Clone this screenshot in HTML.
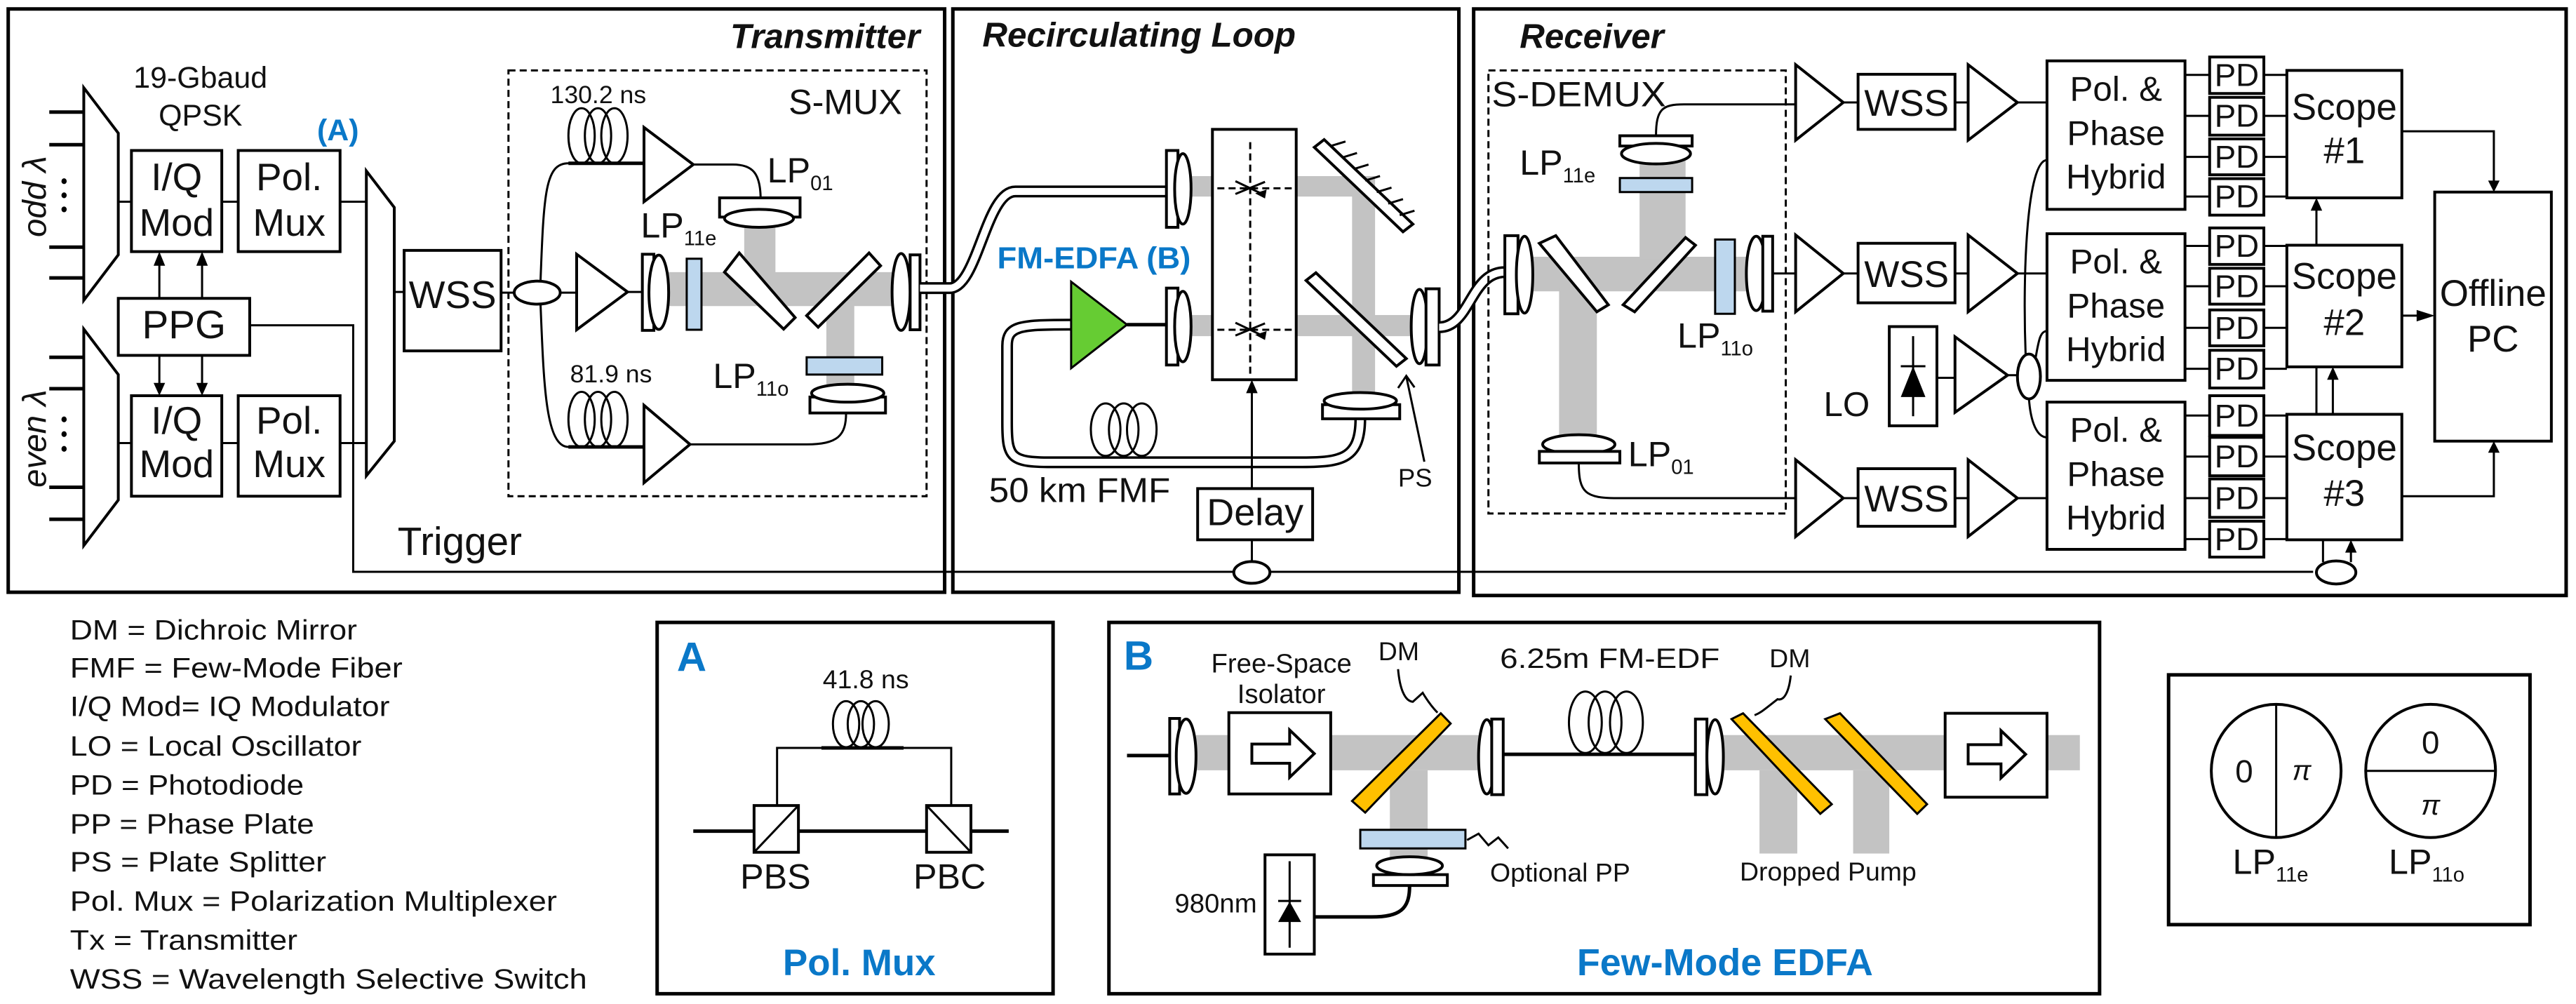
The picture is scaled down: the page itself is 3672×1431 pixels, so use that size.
<!DOCTYPE html>
<html><head><meta charset="utf-8"><style>
html,body{margin:0;padding:0;background:#fff;}
svg{display:block;}
svg *{vector-effect:non-scaling-stroke;}
.b{fill:#fff;stroke:#000;stroke-width:4}
.f{fill:none;stroke:#000;stroke-width:3}
.k{fill:none;stroke:#000;stroke-width:5}
.g{fill:#c3c3c3;stroke:none}
.bl{fill:#bdd7ee;stroke:#000;stroke-width:3}
.or{fill:#ffc000;stroke:#000;stroke-width:3}
.ah{fill:#000;stroke:none}
text{font-family:"Liberation Sans",Arial,sans-serif;fill:#111}
.m{text-anchor:middle}
.e{text-anchor:end}
.ti{font-weight:bold;font-style:italic}
.blu{fill:#0a78c8;font-weight:bold}
</style></head><body>
<svg width="3672" height="1431" viewBox="0 0 1568 1568" preserveAspectRatio="none" xmlns="http://www.w3.org/2000/svg">

<!-- beams -->
<rect class="g" x="395" y="425" width="160" height="53"/>
<rect class="g" x="453" y="335" width="19" height="92"/>
<rect class="g" x="503" y="470" width="17" height="150"/>
<rect class="g" x="720" y="275" width="116" height="32"/>
<rect class="g" x="823" y="275" width="14" height="345"/>
<rect class="g" x="720" y="492" width="150" height="33"/>
<rect class="g" x="920" y="401" width="150" height="54"/>
<rect class="g" x="998" y="215" width="28" height="190"/>
<rect class="g" x="949" y="450" width="23" height="240"/>
<rect class="g" x="728" y="1148" width="173" height="55"/>
<rect class="g" x="1035" y="1148" width="231" height="55"/>
<rect class="g" x="846" y="1203" width="23" height="140"/>
<rect class="g" x="1071" y="1203" width="23" height="130"/>
<rect class="g" x="1128" y="1203" width="22" height="130"/>

<!-- panels -->
<rect x="5" y="14" width="570" height="911" fill="none" stroke="#000" stroke-width="5"/>
<rect x="580" y="14" width="308" height="911" fill="none" stroke="#000" stroke-width="5"/>
<rect x="897" y="14" width="665" height="916" fill="none" stroke="#000" stroke-width="5"/>
<text class="e ti" transform="matrix(.39 0 0 1 560 75)" font-size="54">Transmitter</text>
<text class="ti" transform="matrix(.39 0 0 1 598 73)" font-size="54">Recirculating Loop</text>
<text class="ti" transform="matrix(.39 0 0 1 925 75)" font-size="54">Receiver</text>

<!-- muxes -->
<polygon class="b" points="51,137 72,208 72,398 51,469"/>
<polygon class="b" points="51,514 72,585 72,781 51,852"/>
<path class="k" d="M30 175H51M30 226H51M30 386H51M30 434H51M30 558H51M30 607H51M30 761H51M30 811H51"/>
<g fill="#000"><ellipse cx="39" cy="283" rx="1.6" ry="4.5"/><ellipse cx="39" cy="305" rx="1.6" ry="4.5"/><ellipse cx="39" cy="327" rx="1.6" ry="4.5"/>
<ellipse cx="39" cy="655" rx="1.6" ry="4.5"/><ellipse cx="39" cy="678" rx="1.6" ry="4.5"/><ellipse cx="39" cy="701" rx="1.6" ry="4.5"/></g>
<text class="m" transform="matrix(0 -1 .39 0 28 307)" font-size="52" font-style="italic">odd λ</text>
<text class="m" transform="matrix(0 -1 .39 0 28 685)" font-size="52" font-style="italic">even λ</text>

<rect class="b" x="80" y="235" width="55" height="158"/>
<rect class="b" x="145" y="235" width="62" height="158"/>
<rect class="b" x="80" y="618" width="55" height="157"/>
<rect class="b" x="145" y="618" width="62" height="157"/>
<path class="f" d="M72 315H80M135 315H145M207 315H223M72 692H80M135 692H145M207 692H223"/>
<g font-size="60">
<text class="m" transform="matrix(.39 0 0 1 107.5 297)">I/Q</text>
<text class="m" transform="matrix(.39 0 0 1 107.5 368)">Mod</text>
<text class="m" transform="matrix(.39 0 0 1 176 297)">Pol.</text>
<text class="m" transform="matrix(.39 0 0 1 176 368)">Mux</text>
<text class="m" transform="matrix(.39 0 0 1 107.5 677)">I/Q</text>
<text class="m" transform="matrix(.39 0 0 1 107.5 745)">Mod</text>
<text class="m" transform="matrix(.39 0 0 1 176 677)">Pol.</text>
<text class="m" transform="matrix(.39 0 0 1 176 745)">Mux</text>
</g>
<rect class="b" x="72" y="466" width="80" height="89"/>
<text class="m" transform="matrix(.39 0 0 1 112 528)" font-size="62">PPG</text>
<path class="f" d="M97 466V410M123 466V410M97 555V600M123 555V600"/>
<polygon class="ah" points="93.5,415 100.5,415 97,393"/>
<polygon class="ah" points="119.5,415 126.5,415 123,393"/>
<polygon class="ah" points="93.5,598 100.5,598 97,618"/>
<polygon class="ah" points="119.5,598 126.5,598 123,618"/>
<path class="f" d="M152 508H215V893H1408"/>
<polygon class="b" points="223,267 240,324 240,689 223,743"/>
<path class="f" d="M240 456H246M305 457H313"/>
<rect class="b" x="246" y="391" width="59" height="157"/>
<text class="m" transform="matrix(.39 0 0 1 275.5 481)" font-size="60">WSS</text>
<text class="m" transform="matrix(.39 0 0 1 122 137)" font-size="47">19-Gbaud</text>
<text class="m" transform="matrix(.39 0 0 1 122 196)" font-size="47">QPSK</text>
<text class="blu" transform="matrix(.39 0 0 1 193 219)" font-size="47">(A)</text>
<text transform="matrix(.39 0 0 1 242 867)" font-size="62">Trigger</text>

<!-- S-MUX -->
<rect x="309.5" y="110" width="254.5" height="665" fill="none" stroke="#000" stroke-width="3" stroke-dasharray="10 6"/>
<text transform="matrix(.39 0 0 1 480 178)" font-size="55">S-MUX</text>
<text transform="matrix(.39 0 0 1 335 161)" font-size="39">130.2 ns</text>
<text transform="matrix(.39 0 0 1 347 597)" font-size="39">81.9 ns</text>
<path class="f" d="M329 440C331 300 332 255 346 255H392"/>
<path class="f" d="M329 474C331 600 332 698 346 698H392"/>
<path class="k" d="M346 255H392M346 698H392"/>
<g class="f"><ellipse cx="354" cy="212" rx="8" ry="43"/><ellipse cx="364" cy="212" rx="8" ry="43"/><ellipse cx="374" cy="212" rx="8" ry="43"/>
<ellipse cx="354" cy="655" rx="8" ry="43"/><ellipse cx="364" cy="655" rx="8" ry="43"/><ellipse cx="374" cy="655" rx="8" ry="43"/></g>
<ellipse class="b" cx="327" cy="457" rx="14" ry="18"/>
<polygon class="b" points="392,199 422,257 392,315"/>
<path class="f" d="M422 257H446C458 257 463 270 463 312"/>
<rect class="b" x="438" y="309" width="49" height="30"/>
<ellipse class="b" cx="462" cy="341" rx="21" ry="14"/>
<text transform="matrix(.39 0 0 1 467 285)" font-size="55">LP<tspan font-size="32" dy="12">01</tspan></text>
<text transform="matrix(.39 0 0 1 390 371)" font-size="55">LP<tspan font-size="32" dy="12">11e</tspan></text>
<text transform="matrix(.39 0 0 1 434 606)" font-size="55">LP<tspan font-size="32" dy="12">11o</tspan></text>
<path class="f" d="M341 457H351M382 456H391"/>
<polygon class="b" points="351,397 382,456 351,515"/>
<rect class="b" x="391" y="397" width="7" height="119"/>
<ellipse class="b" cx="401" cy="456.5" rx="6" ry="58"/>
<rect class="bl" x="418" y="404" width="9" height="111"/>
<polygon class="b" points="441,425 450,395 484,496 477,514"/>
<polygon class="b" points="491,493 498,511 536,415 529,395"/>
<ellipse class="b" cx="548.5" cy="456" rx="5.5" ry="60"/>
<rect class="b" x="554" y="398" width="6" height="117"/>
<polygon class="b" points="392,633 420,694 392,754"/>
<path class="f" d="M420 694H491C510 694 515 680 515 645"/>
<rect class="b" x="493" y="620" width="46" height="25"/>
<ellipse class="b" cx="516" cy="614" rx="22" ry="14"/>
<rect class="bl" x="491" y="558" width="46" height="27"/>

<!-- double fiber Tx->loop -->
<path d="M560 450H578C595 450 600 299 618 299H711" fill="none" stroke="#000" stroke-width="17"/>
<path d="M560 450H578C595 450 600 299 618 299H711" fill="none" stroke="#fff" stroke-width="10"/>

<!-- loop -->
<path d="M828 654C828 720 815 722 790 722H640C615 722 613 715 613 660V540C613 510 620 507 650 507H652" fill="none" stroke="#000" stroke-width="17"/>
<path d="M828 654C828 720 815 722 790 722H640C615 722 613 715 613 660V540C613 510 620 507 650 507H652" fill="none" stroke="#fff" stroke-width="10"/>
<g class="f" stroke-width="4"><ellipse cx="673" cy="671" rx="9" ry="41"/><ellipse cx="684" cy="671" rx="9" ry="41"/><ellipse cx="695" cy="671" rx="9" ry="41"/></g>
<rect class="b" x="710" y="235" width="7" height="120"/>
<ellipse class="b" cx="720" cy="295" rx="5" ry="55"/>
<rect class="b" x="710" y="450" width="7" height="120"/>
<ellipse class="b" cx="720" cy="510" rx="5" ry="55"/>
<polygon fill="#66cc33" stroke="#000" stroke-width="3" points="652,440 686,507 652,575"/>
<path class="k" d="M686 507H710"/>
<rect class="b" x="738" y="202" width="51" height="391"/>
<path class="f" d="M741 294H787M741 515H787M761 222V588" stroke-dasharray="10 6"/>
<path class="f" d="M752 283L770 305M752 303L770 284M752 504L770 526M752 524L770 505"/>
<polygon class="ah" points="764,302 770,310 771,296"/>
<polygon class="ah" points="764,523 770,531 771,517"/>
<polygon class="b" points="800,230 806,218 860,350 854,362"/>
<path class="f" d="M810 228l9 -7M817 246l9 -7M824 264l9 -7M831 282l9 -7M838 300l9 -7M845 318l9 -7M852 336l9 -7"/>
<polygon class="b" points="795,438 801,426 856,560 850,572"/>
<rect class="b" x="805" y="632" width="47" height="22"/>
<ellipse class="b" cx="828" cy="626" rx="22" ry="13"/>
<text class="blu" transform="matrix(.39 0 0 1 607 419)" font-size="48" textLength="302" lengthAdjust="spacingAndGlyphs">FM-EDFA (B)</text>
<text transform="matrix(.39 0 0 1 602 784)" font-size="54" textLength="283" lengthAdjust="spacingAndGlyphs">50 km FMF</text>
<rect class="b" x="729" y="763" width="70" height="80"/>
<text class="m" transform="matrix(.39 0 0 1 764 820)" font-size="59">Delay</text>
<path class="f" d="M762 763V610M762 843V880"/>
<polygon class="ah" points="758.5,614 765.5,614 762,593"/>
<ellipse class="b" cx="762" cy="894" rx="11" ry="17"/>
<text transform="matrix(.39 0 0 1 851 760)" font-size="40">PS</text>
<path class="f" d="M867 721L856 588M851 606L856 587L861 605"/>

<!-- receiver -->
<ellipse class="b" cx="864" cy="510" rx="5" ry="58"/>
<rect class="b" x="868" y="451" width="8" height="119"/>
<path d="M876 511C895 511 895 425 916 425" fill="none" stroke="#000" stroke-width="17"/>
<path d="M876 511C895 511 895 425 916 425" fill="none" stroke="#fff" stroke-width="10"/>
<rect x="906" y="110" width="181" height="692" fill="none" stroke="#000" stroke-width="3" stroke-dasharray="10 6"/>
<text transform="matrix(.39 0 0 1 908 166)" font-size="55" textLength="272" lengthAdjust="spacingAndGlyphs">S-DEMUX</text>
<rect class="b" x="916" y="368" width="8" height="122"/>
<ellipse class="b" cx="928" cy="429" rx="5" ry="60"/>
<polygon class="b" points="937,380 947,368 979,476 972,487"/>
<polygon class="b" points="988,476 995,487 1032,383 1026,371"/>
<rect class="bl" x="1044" y="374" width="12" height="116"/>
<ellipse class="b" cx="1069" cy="427" rx="6" ry="58"/>
<rect class="b" x="1073" y="369" width="6" height="117"/>
<path class="f" d="M1079 427H1093"/>
<rect class="b" x="986" y="212" width="44" height="16"/>
<ellipse class="b" cx="1008" cy="240" rx="21" ry="16"/>
<rect class="bl" x="986" y="278" width="44" height="22"/>
<path class="f" d="M1008 212C1008 170 1012 163 1025 163H1093"/>
<text transform="matrix(.39 0 0 1 925 273)" font-size="55">LP<tspan font-size="32" dy="12">11e</tspan></text>
<text transform="matrix(.39 0 0 1 1021 543)" font-size="55">LP<tspan font-size="32" dy="12">11o</tspan></text>
<text transform="matrix(.39 0 0 1 991 728)" font-size="55">LP<tspan font-size="32" dy="12">01</tspan></text>
<ellipse class="b" cx="961" cy="694" rx="22" ry="15"/>
<rect class="b" x="937" y="705" width="49" height="18"/>
<path class="f" d="M961 723C961 770 965 778 985 778H1093"/>

<!-- rows -->
<g>
<polygon class="b" points="1093,101 1122,160 1093,219"/>
<polygon class="b" points="1093,367 1122,427 1093,487"/>
<polygon class="b" points="1093,718 1122,778 1093,838"/>
<polygon class="b" points="1198,101 1228,160 1198,219"/>
<polygon class="b" points="1198,367 1228,427 1198,487"/>
<polygon class="b" points="1198,718 1228,778 1198,838"/>
<rect class="b" x="1131" y="116" width="59" height="86"/>
<rect class="b" x="1131" y="380" width="59" height="93"/>
<rect class="b" x="1131" y="732" width="59" height="90"/>
<path class="f" d="M1122 160H1131M1190 160H1198M1228 160H1246M1122 427H1131M1190 427H1198M1228 427H1246M1122 778H1131M1190 778H1198M1228 778H1246"/>
<text class="m" transform="matrix(.39 0 0 1 1160.5 181)" font-size="58">WSS</text>
<text class="m" transform="matrix(.39 0 0 1 1160.5 448)" font-size="58">WSS</text>
<text class="m" transform="matrix(.39 0 0 1 1160.5 799)" font-size="58">WSS</text>
</g>
<rect class="b" x="1246" y="95" width="84" height="232"/>
<rect class="b" x="1246" y="365" width="84" height="229"/>
<rect class="b" x="1246" y="628" width="84" height="230"/>
<g font-size="54">
<text class="m" transform="matrix(.39 0 0 1 1288 157)">Pol. &amp;</text>
<text class="m" transform="matrix(.39 0 0 1 1288 226)">Phase</text>
<text class="m" transform="matrix(.39 0 0 1 1288 294)">Hybrid</text>
<text class="m" transform="matrix(.39 0 0 1 1288 427)">Pol. &amp;</text>
<text class="m" transform="matrix(.39 0 0 1 1288 496)">Phase</text>
<text class="m" transform="matrix(.39 0 0 1 1288 564)">Hybrid</text>
<text class="m" transform="matrix(.39 0 0 1 1288 690)">Pol. &amp;</text>
<text class="m" transform="matrix(.39 0 0 1 1288 759)">Phase</text>
<text class="m" transform="matrix(.39 0 0 1 1288 827)">Hybrid</text>
</g>
<g>
<rect class="b" x="1345" y="89" width="33" height="57"/><rect class="b" x="1345" y="152" width="33" height="59"/><rect class="b" x="1345" y="217" width="33" height="56"/><rect class="b" x="1345" y="279" width="33" height="57"/>
<rect class="b" x="1345" y="356" width="33" height="57"/><rect class="b" x="1345" y="419" width="33" height="56"/><rect class="b" x="1345" y="484" width="33" height="56"/><rect class="b" x="1345" y="547" width="33" height="59"/>
<rect class="b" x="1345" y="618" width="33" height="62"/><rect class="b" x="1345" y="683" width="33" height="60"/><rect class="b" x="1345" y="748" width="33" height="60"/><rect class="b" x="1345" y="814" width="33" height="56"/>
<path class="f" d="M1330 117H1345M1378 117H1392M1330 181H1345M1378 181H1392M1330 245H1345M1378 245H1392M1330 307H1345M1378 307H1392M1330 384H1345M1378 384H1392M1330 447H1345M1378 447H1392M1330 512H1345M1378 512H1392M1330 576H1345M1378 576H1392M1330 649H1345M1378 649H1392M1330 713H1345M1378 713H1392M1330 778H1345M1378 778H1392M1330 842H1345M1378 842H1392"/>
<g font-size="50">
<text class="m" transform="matrix(.39 0 0 1 1361.5 134)">PD</text><text class="m" transform="matrix(.39 0 0 1 1361.5 198)">PD</text><text class="m" transform="matrix(.39 0 0 1 1361.5 262)">PD</text><text class="m" transform="matrix(.39 0 0 1 1361.5 324)">PD</text>
<text class="m" transform="matrix(.39 0 0 1 1361.5 401)">PD</text><text class="m" transform="matrix(.39 0 0 1 1361.5 464)">PD</text><text class="m" transform="matrix(.39 0 0 1 1361.5 529)">PD</text><text class="m" transform="matrix(.39 0 0 1 1361.5 593)">PD</text>
<text class="m" transform="matrix(.39 0 0 1 1361.5 666)">PD</text><text class="m" transform="matrix(.39 0 0 1 1361.5 730)">PD</text><text class="m" transform="matrix(.39 0 0 1 1361.5 795)">PD</text><text class="m" transform="matrix(.39 0 0 1 1361.5 859)">PD</text>
</g></g>
<rect class="b" x="1392" y="110" width="70" height="199"/>
<rect class="b" x="1392" y="383" width="70" height="190"/>
<rect class="b" x="1392" y="647" width="70" height="196"/>
<rect class="b" x="1482" y="300" width="71" height="389"/>
<g font-size="58">
<text class="m" transform="matrix(.39 0 0 1 1427 187)">Scope</text><text class="m" transform="matrix(.39 0 0 1 1427 255)">#1</text>
<text class="m" transform="matrix(.39 0 0 1 1427 451)">Scope</text><text class="m" transform="matrix(.39 0 0 1 1427 523)">#2</text>
<text class="m" transform="matrix(.39 0 0 1 1427 719)">Scope</text><text class="m" transform="matrix(.39 0 0 1 1427 790)">#3</text>
<text class="m" transform="matrix(.39 0 0 1 1517.5 478)">Offline</text><text class="m" transform="matrix(.39 0 0 1 1517.5 549)">PC</text>
</g>
<path class="f" d="M1462 205H1518V285M1462 493H1472M1462 775H1518V705M1410 383V327M1410 647V573M1420 647V592M1414 878V843M1431 878V862"/>
<polygon class="ah" points="1514.5,282 1521.5,282 1518,300"/>
<polygon class="ah" points="1471,484 1471,502 1482,493"/>
<polygon class="ah" points="1514.5,707 1521.5,707 1518,689"/>
<polygon class="ah" points="1406.5,329 1413.5,329 1410,309"/>
<polygon class="ah" points="1416.5,593 1423.5,593 1420,573"/>
<polygon class="ah" points="1427.5,863 1434.5,863 1431,843"/>
<ellipse class="b" cx="1422" cy="894" rx="12" ry="18"/>

<!-- LO -->
<text transform="matrix(.39 0 0 1 1110 650)" font-size="54">LO</text>
<rect class="b" x="1150" y="510" width="29" height="155"/>
<path class="f" d="M1164.5 525V650M1157 572H1172"/>
<polygon class="ah" points="1157,620 1172,620 1164.5,572"/>
<path class="f" d="M1179 590H1190M1222 586H1228"/>
<polygon class="b" points="1190,526 1222,586 1190,644"/>
<path class="f" d="M1233 555C1231 420 1234 250 1246 250M1239 560C1241 530 1242 517 1246 517M1235 622C1236 660 1240 683 1246 683"/>
<ellipse class="b" cx="1235" cy="588" rx="7" ry="35"/>

<!-- legend -->
<g font-size="44">
<text transform="matrix(.39 0 0 1 42.6 999)" textLength="448" lengthAdjust="spacingAndGlyphs">DM = Dichroic Mirror</text>
<text transform="matrix(.39 0 0 1 42.6 1058)" textLength="519" lengthAdjust="spacingAndGlyphs">FMF = Few-Mode Fiber</text>
<text transform="matrix(.39 0 0 1 42.6 1118)" textLength="499" lengthAdjust="spacingAndGlyphs">I/Q Mod= IQ Modulator</text>
<text transform="matrix(.39 0 0 1 42.6 1180)" textLength="455" lengthAdjust="spacingAndGlyphs">LO = Local Oscillator</text>
<text transform="matrix(.39 0 0 1 42.6 1241)" textLength="365" lengthAdjust="spacingAndGlyphs">PD = Photodiode</text>
<text transform="matrix(.39 0 0 1 42.6 1302)" textLength="381" lengthAdjust="spacingAndGlyphs">PP = Phase Plate</text>
<text transform="matrix(.39 0 0 1 42.6 1361)" textLength="400" lengthAdjust="spacingAndGlyphs">PS = Plate Splitter</text>
<text transform="matrix(.39 0 0 1 42.6 1422)" textLength="760" lengthAdjust="spacingAndGlyphs">Pol. Mux = Polarization Multiplexer</text>
<text transform="matrix(.39 0 0 1 42.6 1483)" textLength="355" lengthAdjust="spacingAndGlyphs">Tx = Transmitter</text>
<text transform="matrix(.39 0 0 1 42.6 1544)" textLength="807" lengthAdjust="spacingAndGlyphs">WSS = Wavelength Selective Switch</text>
</g>

<!-- panel A -->
<rect x="400" y="972" width="241" height="580" fill="none" stroke="#000" stroke-width="5"/>
<text class="blu" transform="matrix(.39 0 0 1 412 1048)" font-size="64">A</text>
<text class="m" transform="matrix(.39 0 0 1 527 1075)" font-size="41">41.8 ns</text>
<g class="f"><ellipse cx="515" cy="1131" rx="8" ry="36"/><ellipse cx="524" cy="1131" rx="8" ry="36"/><ellipse cx="533" cy="1131" rx="8" ry="36"/></g>
<path class="f" d="M473 1258V1168H579V1258"/>
<path class="k" d="M422 1298H459M486 1298H564M591 1298H614M500 1168H550"/>
<rect class="b" x="459" y="1258" width="27" height="73"/>
<rect class="b" x="564" y="1258" width="27" height="73"/>
<path class="f" d="M459 1331L486 1258M564 1258L591 1331"/>
<text class="m" transform="matrix(.39 0 0 1 472 1388)" font-size="55">PBS</text>
<text class="m" transform="matrix(.39 0 0 1 578 1388)" font-size="55">PBC</text>
<text class="m blu" transform="matrix(.39 0 0 1 523 1523)" font-size="58">Pol. Mux</text>

<!-- panel B -->
<rect x="675" y="972" width="603" height="580" fill="none" stroke="#000" stroke-width="5"/>
<text class="blu" transform="matrix(.39 0 0 1 684 1046)" font-size="64">B</text>
<path class="k" d="M686 1180H712"/>
<rect class="b" x="712" y="1122" width="6" height="118"/>
<ellipse class="b" cx="722" cy="1181" rx="6" ry="58"/>
<rect class="b" x="748" y="1113" width="62" height="127"/>
<polygon class="b" points="762,1162 785,1162 785,1140 800,1177 785,1214 785,1192 762,1192"/>
<polygon class="or" points="877,1114 883,1130 831,1269 823,1251"/>
<ellipse class="b" cx="905" cy="1182" rx="5" ry="58"/>
<rect class="b" x="908" y="1123" width="7" height="118"/>
<path class="k" d="M915 1178H1032"/>
<g class="f"><ellipse cx="965" cy="1128" rx="10" ry="48"/><ellipse cx="977" cy="1128" rx="10" ry="48"/><ellipse cx="990" cy="1128" rx="10" ry="48"/></g>
<rect class="b" x="1032" y="1123" width="7" height="118"/>
<ellipse class="b" cx="1044" cy="1182" rx="5" ry="58"/>
<polygon class="or" points="1054,1123 1061,1114 1115,1256 1108,1271"/>
<polygon class="or" points="1111,1123 1120,1114 1173,1256 1167,1271"/>
<rect class="b" x="1184" y="1114" width="62" height="131"/>
<polygon class="b" points="1198,1163 1218,1163 1218,1141 1233,1178 1218,1215 1218,1193 1198,1193"/>
<rect class="bl" x="828" y="1296" width="64" height="29"/>
<rect class="b" x="836" y="1366" width="45" height="17"/>
<ellipse class="b" cx="858" cy="1352" rx="20" ry="14"/>
<path class="k" d="M858 1384C858 1420 852 1432 835 1432H800"/>
<rect class="b" x="770" y="1335" width="30" height="155"/>
<path class="f" d="M785 1345V1480M778 1407H792"/>
<polygon class="ah" points="778,1440 792,1440 785,1408"/>
<text transform="matrix(.39 0 0 1 715 1425)" font-size="42">980nm</text>
<text class="m" transform="matrix(.39 0 0 1 780 1050)" font-size="42">Free-Space</text>
<text class="m" transform="matrix(.39 0 0 1 780 1098)" font-size="42">Isolator</text>
<text transform="matrix(.39 0 0 1 839 1031)" font-size="41">DM</text>
<path class="f" d="M851 1045C852 1075 855 1095 860 1096L866 1082C869 1095 872 1105 875 1113"/>
<text transform="matrix(.39 0 0 1 913 1043)" font-size="44" textLength="343" lengthAdjust="spacingAndGlyphs">6.25m FM-EDF</text>
<text transform="matrix(.39 0 0 1 1077 1042)" font-size="41">DM</text>
<path class="f" d="M1090 1055C1089 1080 1086 1095 1082 1092L1076 1104C1073 1110 1071 1114 1068 1117"/>
<path class="f" d="M893 1312L900 1302L906 1320L912 1308L918 1325"/>
<text transform="matrix(.39 0 0 1 907 1377)" font-size="41">Optional PP</text>
<text transform="matrix(.39 0 0 1 1059 1375)" font-size="41">Dropped Pump</text>
<text class="m blu" transform="matrix(.39 0 0 1 1050 1523)" font-size="59">Few-Mode EDFA</text>

<!-- LP panel -->
<rect x="1320" y="1054" width="220" height="390" fill="none" stroke="#000" stroke-width="5"/>
<ellipse cx="1385.5" cy="1204" rx="39.5" ry="104" fill="none" stroke="#000" stroke-width="4"/>
<ellipse cx="1479.5" cy="1204" rx="39.5" ry="104" fill="none" stroke="#000" stroke-width="4"/>
<path class="f" d="M1385.5 1100V1308M1440 1204H1519"/>
<text class="m" transform="matrix(.39 0 0 1 1366 1222)" font-size="50">0</text>
<text class="m" transform="matrix(.39 0 0 1 1401 1218)" font-size="44" font-style="italic">π</text>
<text class="m" transform="matrix(.39 0 0 1 1479.5 1177)" font-size="50">0</text>
<text class="m" transform="matrix(.39 0 0 1 1479.5 1272)" font-size="44" font-style="italic">π</text>
<text transform="matrix(.39 0 0 1 1359 1365)" font-size="55">LP<tspan font-size="32" dy="12">11e</tspan></text>
<text transform="matrix(.39 0 0 1 1454 1365)" font-size="55">LP<tspan font-size="32" dy="12">11o</tspan></text>
</svg>
</body></html>
